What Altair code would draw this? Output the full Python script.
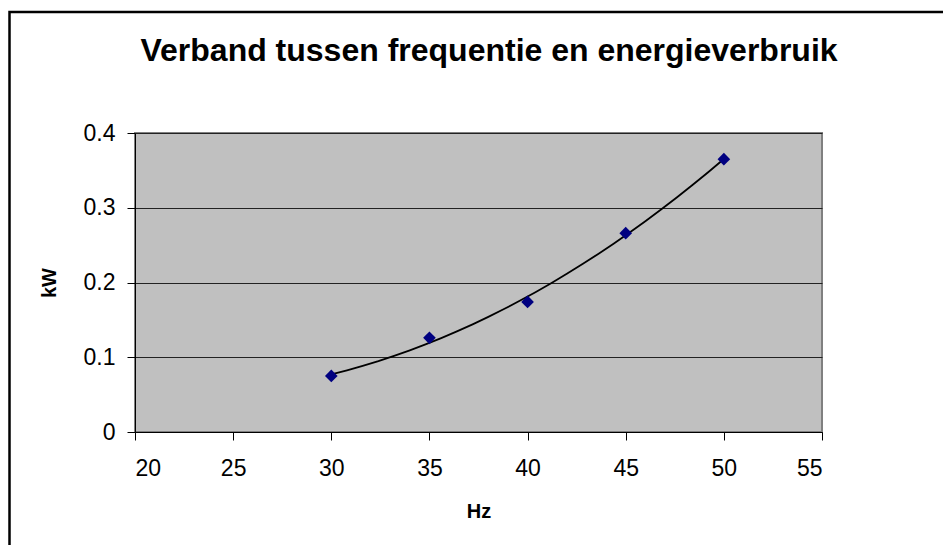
import altair as alt
import pandas as pd

# ---- data ----
hz = [30, 35, 40, 45, 50]
kw = [0.075, 0.126, 0.174, 0.266, 0.365]
x_ticks = [20, 25, 30, 35, 40, 45, 50, 55]
y_ticks = [0, 0.1, 0.2, 0.3, 0.4]
chart_title = ["Verband tussen frequentie en energieverbruik"]
x_title = "Hz"
y_title = "kW"

df = pd.DataFrame({"Hz": hz, "kW": kw})
FONT = "Liberation Sans"

W, H = 687, 299

x_enc = alt.X(
    "Hz:Q",
    scale=alt.Scale(domain=[20, 55], nice=False, zero=False),
    axis=alt.Axis(
        values=x_ticks, title=x_title, grid=False, format="d",
        tickSize=8, labelPadding=17,
        titleX=W / 2, titleY=79, titleAlign="center", titleBaseline="middle",
    ),
)
y_enc = alt.Y(
    "kW:Q",
    scale=alt.Scale(domain=[0, 0.4], nice=False),
    axis=alt.Axis(
        values=y_ticks, title=y_title, grid=True, format="~g",
        tickSize=8, labelPadding=12,
        titleX=-86, titleY=H / 2, titleAlign="center", titleBaseline="middle",
        titleAngle=270,
    ),
)

border = alt.Chart(pd.DataFrame({"a": [0]})).mark_rect(
    fillOpacity=0, stroke="black", strokeWidth=2.5
).encode(
    x=alt.value(-125.5), x2=alt.value(840),
    y=alt.value(-121), y2=alt.value(460),
)

title = alt.Chart(pd.DataFrame({"t": chart_title})).mark_text(
    font=FONT, fontSize=32, fontWeight="bold", align="center",
    baseline="alphabetic", color="black",
).encode(text="t:N", x=alt.value(354), y=alt.value(-72))

trend = alt.Chart(df).transform_regression(
    "Hz", "kW", method="poly", order=2, extent=[30, 50]
).mark_line(color="black", strokeWidth=1.8).encode(x=x_enc, y=y_enc)

points = alt.Chart(df).mark_point(
    shape="diamond", filled=True, color="#000080", size=160, opacity=1
).encode(x=x_enc, y=y_enc)

chart = alt.layer(border, title, trend, points).properties(
    width=W, height=H,
    background="white",
    autosize=alt.AutoSizeParams(type="none"),
    padding={"left": 127, "top": 125, "right": 121, "bottom": 113},
).configure_view(
    fill="#C0C0C0", stroke="#808080", strokeWidth=2
).configure_axis(
    labelFont=FONT, labelFontSize=23, labelColor="black",
    titleFont=FONT, titleFontSize=20, titleFontWeight="bold", titleColor="black",
    domainColor="black", domainWidth=1, tickColor="black", tickWidth=1,
    gridColor="#222222", gridWidth=1, gridOpacity=1,
)

chart.save("out.html", embed_options={"renderer": "svg", "actions": False})
